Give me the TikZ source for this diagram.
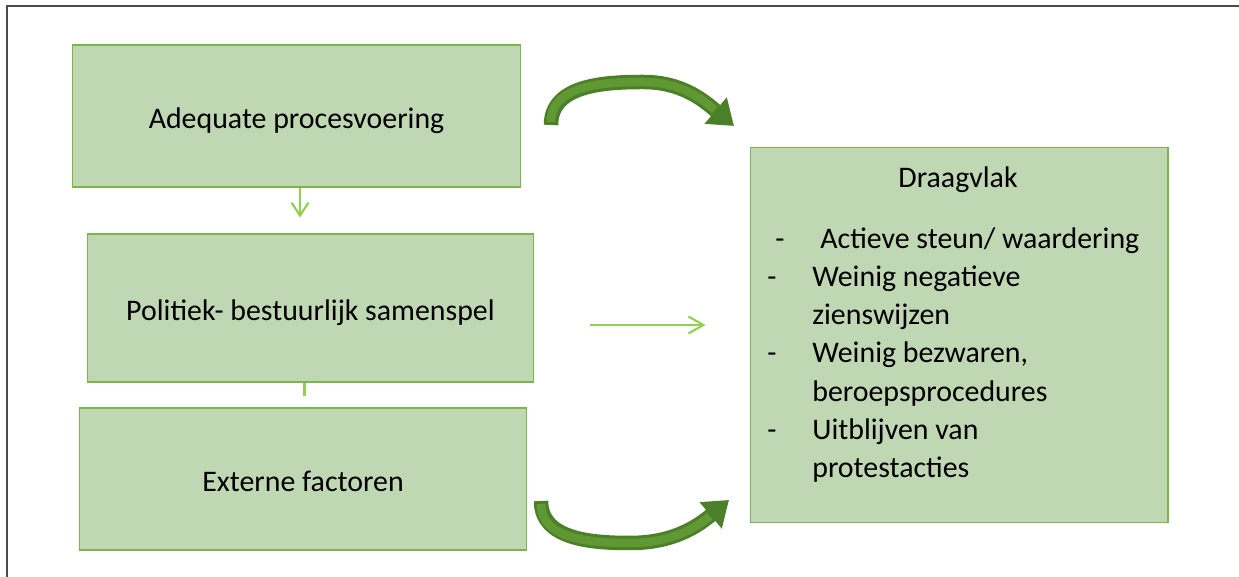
\documentclass[tikz,border=0pt]{standalone}
\usepackage{fontspec}
\setmainfont{Carlito}
\usetikzlibrary{arrows.meta,positioning}
\definecolor{boxfill}{RGB}{191,215,179}
\definecolor{boxline}{RGB}{122,182,72}
\definecolor{thinarrow}{RGB}{146,208,80}
\definecolor{bigarrow}{RGB}{76,128,40}
\definecolor{bigarrowin}{RGB}{96,152,52}
\definecolor{framegray}{RGB}{75,75,75}
\newcommand\bigtxt{\fontsize{17}{21.8}\selectfont}
\newcommand\boxtxt[1]{\raisebox{-0.26cm}[0pt][0pt]{#1}}

\begin{document}
\begin{tikzpicture}[x=0.02cm,y=0.02cm]
\tikzset{factor/.style={draw=boxline,line width=0.6pt,fill=boxfill,inner sep=0pt,font=\bigtxt},
  thin link/.style={draw=thinarrow,line width=1.2pt},
  block arrow/.style={draw=bigarrow,line width=0.29cm,-{Triangle[width=0.66cm,length=0.48cm]}},
  block inner/.style={draw=bigarrowin,line width=0.17cm,shorten >=0.5cm,shorten <=0.06cm}}
\useasboundingbox (0,0) rectangle (1239,577);
\draw[framegray,line width=1.2pt](7,0)--(7,571)--(1239,571);

% de drie factoren
\node[factor,minimum width=8.98cm,minimum height=2.84cm](proces)at(296.5,461){\boxtxt{Adequate procesvoering}};
\node[factor,minimum width=8.94cm,minimum height=2.96cm](politiek)at(310.5,269){\boxtxt{Politiek- bestuurlijk samenspel}};
\node[factor,minimum width=8.96cm,minimum height=2.84cm](extern)at(303,98){\boxtxt{Externe factoren}};

% draagvlak
\node[factor,minimum width=8.36cm,minimum height=7.52cm](draag)at(959,242){};
\node[font=\bigtxt,inner sep=0pt](titel)at(958,397){Draagvlak};
\node[font=\bigtxt,inner sep=0pt,anchor=north west,align=left](lijst)at(767,350){%
\hspace{0.16cm}\makebox[0.9cm][l]{-}Actieve steun/ waardering\\
\makebox[0.9cm][l]{-}Weinig negatieve\\
\hspace{0.9cm}zienswijzen\\
\makebox[0.9cm][l]{-}Weinig bezwaren,\\
\hspace{0.9cm}beroepsprocedures\\
\makebox[0.9cm][l]{-}Uitblijven van\\
\hspace{0.9cm}protestacties};

% verbindingen
\draw[thin link,-{Straight Barb[width=0.34cm,length=0.26cm]},shorten >=0.32cm]
  ([xshift=0.07cm]proces.south)--([xshift=0.07cm]proces.south|-politiek.north);
\draw[thin link,line width=1.7pt,shorten >=0.22cm]
  ([xshift=-0.13cm]politiek.south)--([xshift=-0.13cm]politiek.south|-extern.north);
\draw[thin link,-{Straight Barb[width=0.34cm,length=0.3cm]},shorten <=1.12cm,shorten >=0.88cm]
  (politiek.east|-0,252)--(draag.west|-0,252);

% gebogen pijlen
\coordinate(boven1)at(551,452);
\coordinate(boven2)at(734,451);
\coordinate(onder1)at(541,76);
\coordinate(onder2)at(729,77);
\draw[block arrow](boven1)to[out=90,in=180](643,495)to[out=0,in=140](boven2);
\draw[block inner](boven1)to[out=90,in=180](643,495)to[out=0,in=140](boven2);
\draw[block arrow](onder1)to[out=-90,in=180](630,34)to[out=0,in=220](onder2);
\draw[block inner](onder1)to[out=-90,in=180](630,34)to[out=0,in=220](onder2);
\end{tikzpicture}
\end{document}
